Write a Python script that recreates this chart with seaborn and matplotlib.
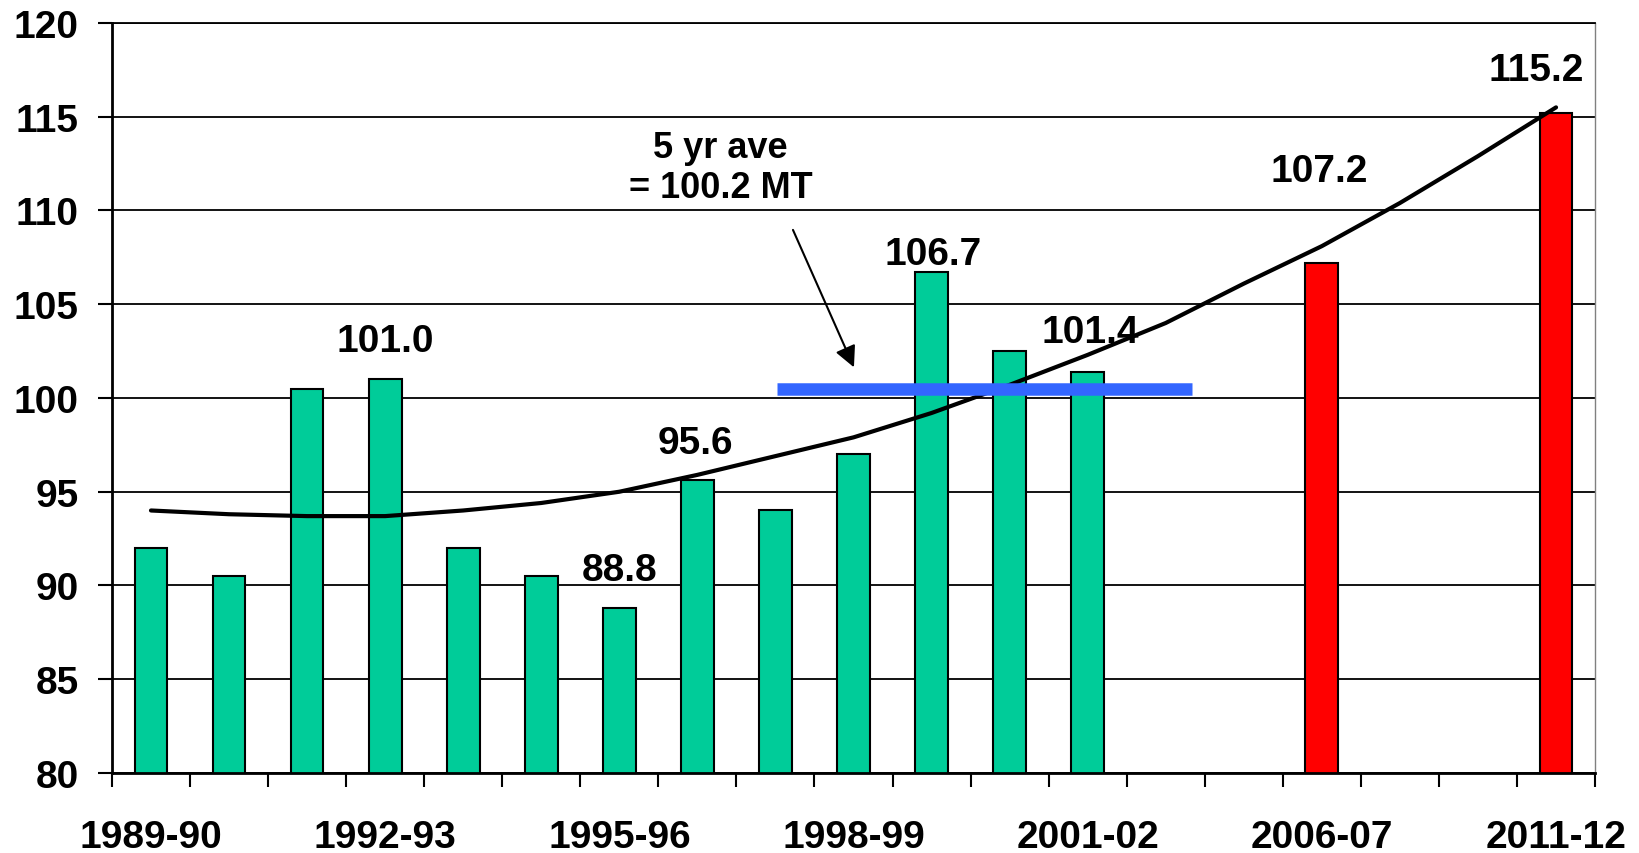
import numpy as np
import pandas as pd
import seaborn as sns
import matplotlib.pyplot as plt

# category slots along the x axis (axis is compressed after 2001-02)
slots = ["1989-90", "1990-91", "1991-92", "1992-93", "1993-94", "1994-95",
         "1995-96", "1996-97", "1997-98", "1998-99", "1999-00", "2000-01",
         "2001-02", "gap1", "gap2", "2006-07", "gap3", "gap4", "2011-12"]

seasons = ["1989-90", "1990-91", "1991-92", "1992-93", "1993-94", "1994-95",
           "1995-96", "1996-97", "1997-98", "1998-99", "1999-00", "2000-01",
           "2001-02", "2006-07", "2011-12"]
production = [92.0, 90.5, 100.5, 101.0, 92.0, 90.5, 88.8, 95.6, 94.0, 97.0,
              106.7, 102.5, 101.4, 107.2, 115.2]
bar_colors = ["#00CC99"] * 13 + ["#FF0000"] * 2

# trend line, one value per slot
trend = [94.0, 93.8, 93.7, 93.7, 94.0, 94.4, 95.0, 95.9, 96.9, 97.9, 99.2,
         100.7, 102.3, 104.0, 106.1, 108.1, 110.4, 112.9, 115.5]

tick_labels = ["1989-90", "1992-93", "1995-96", "1998-99", "2001-02",
               "2006-07", "2011-12"]

labelled = ["1992-93", "1995-96", "1996-97", "1999-00", "2001-02", "2006-07", "2011-12"]

avg_level = 100.5
avg_text = "5 yr ave\n= 100.2 MT"

sns.set_theme(style="white")
plt.rcParams["font.family"] = ["Liberation Sans", "DejaVu Sans"]
plt.rcParams["font.weight"] = "bold"
plt.rcParams["text.color"] = "black"
plt.rcParams["xtick.color"] = "black"
plt.rcParams["ytick.color"] = "black"

fig = plt.figure(figsize=(16.39, 8.54), dpi=100)
ax = fig.add_axes([0.0683, 0.0937, 0.9049, 0.8782])

df = pd.DataFrame({"season": seasons, "production": production})

ax.yaxis.grid(True, color="black", lw=1.3)
ax.set_axisbelow(True)

sns.barplot(data=df, x="season", y="production", order=slots, hue="season",
            palette=dict(zip(seasons, bar_colors)), legend=False, width=0.42,
            edgecolor="black", linewidth=1.5, saturation=1, ax=ax)

sns.lineplot(x=np.arange(len(slots)), y=trend, color="black", lw=3,
             sort=False, ax=ax, zorder=4)

# 5 year average bar
ax.hlines(avg_level, 8.02, 13.33, color="#3366FF", lw=9, zorder=5)
ax.annotate("", xy=(9.02, 101.5), xytext=(8.21, 109.1),
            arrowprops=dict(arrowstyle="-|>", color="black", lw=1.5,
                            mutation_scale=32))
ax.text(7.3, 112.3, avg_text, ha="center", va="center", fontsize=26,
        fontweight="bold", color="black")

# value labels
offsets = {"1992-93": (0, 2.05), "1995-96": (0, 2.0), "1996-97": (-0.03, 2.0),
           "1999-00": (0.02, 0.97), "2001-02": (0.03, 2.1),
           "2006-07": (-0.04, 4.9), "2011-12": (-0.25, 2.3)}
for s in labelled:
    v = production[seasons.index(s)]
    dx, dy = offsets[s]
    ax.text(slots.index(s) + dx, v + dy, f"{v:.1f}", ha="center", va="center",
            fontsize=28, fontweight="bold", color="black", zorder=6)

ax.set_ylim(80, 120)
ax.set_xlim(-0.5, len(slots) - 0.5)
ax.set_yticks(range(80, 121, 5))
ax.set_xticks(np.arange(-0.5, len(slots), 1), labels=[""] * (len(slots) + 1))
ax.set_xticks([slots.index(t) for t in tick_labels], labels=tick_labels, minor=True)
ax.tick_params(axis="x", which="major", length=10, width=1.5, direction="out",
               bottom=True, color="black")
ax.tick_params(axis="x", which="minor", length=0, pad=33, labelsize=28,
               labelcolor="black")
ax.tick_params(axis="y", length=10, width=1.5, direction="out", left=True,
               pad=14, labelsize=28, color="black", labelcolor="black")
ax.set_xlabel("")
ax.set_ylabel("")

for side in ["left", "bottom"]:
    ax.spines[side].set_color("black")
    ax.spines[side].set_linewidth(2)
ax.spines["top"].set_color("black")
ax.spines["top"].set_linewidth(1.3)
ax.spines["right"].set_color("#808080")
ax.spines["right"].set_linewidth(1)

fig.savefig("out.png", dpi=100)
